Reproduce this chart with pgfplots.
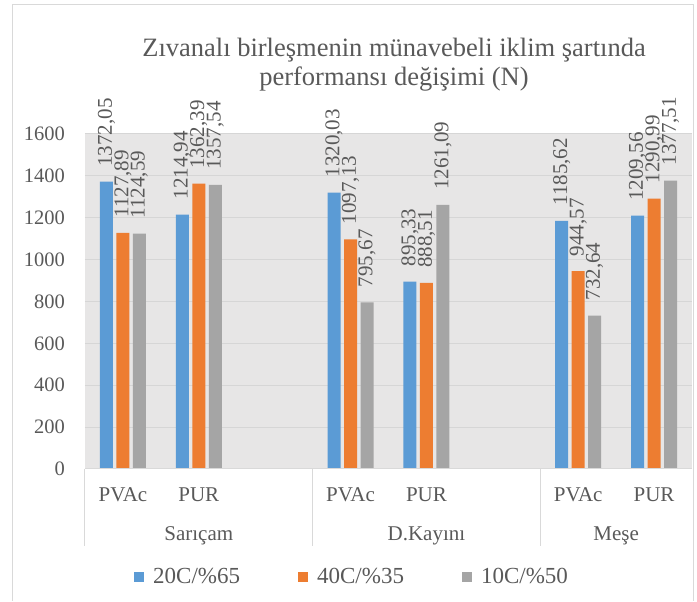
\documentclass[border=0pt]{standalone}
\usepackage{fontspec}
\setmainfont{Liberation Serif}
\usepackage{pgfplots}
\pgfplotsset{compat=1.18}
\definecolor{cblue}{HTML}{5B9BD5}
\definecolor{corange}{HTML}{ED7D31}
\definecolor{cgrey}{HTML}{A5A5A5}
\definecolor{txt}{HTML}{595959}
\definecolor{plotbg}{HTML}{E7E6E6}
\definecolor{gridc}{HTML}{D6D6D6}
\definecolor{linec}{HTML}{D9D9D9}
\newcommand{\fs}[1]{\fontsize{#1}{#1}\selectfont}
\begin{document}
\begin{tikzpicture}
\begin{axis}[
  at={(85pt,132pt)}, anchor=south west,
  scale only axis, width=607pt, height=335pt,
  xmin=-0.5, xmax=7.5, ymin=0, ymax=1600,
  clip=false,
  /pgf/number format/assume math mode=true,
  /pgf/number format/1000 sep={},
  axis background/.style={fill=plotbg},
  axis line style={draw=none},
  ymajorgrids, grid style={gridc, line width=1pt},
  major tick length=0pt,
  ytick={0,200,...,1600},
  yticklabel style={anchor=east, inner sep=0pt, xshift=-20pt, text=txt, font=\fs{20.5}},
  xtick={0,1,3,4,6,7},
  xticklabels={PVAc,PUR,PVAc,PUR,PVAc,PUR},
  xticklabel style={anchor=base, inner sep=0pt, yshift=-33pt, text=txt, font=\fs{21}},
  every node near coord/.append style={rotate=90, anchor=west, inner xsep=15pt, inner ysep=0pt, text=txt, font=\fs{21}},
  nodes near coords={\pgfmathprintnumber[fixed,fixed zerofill,precision=2,use comma,1000 sep={}]{\pgfplotspointmeta}},
  legend columns=3,
  legend style={at={(rel axis cs:0.44,-0.322)}, anchor=center, draw=none, fill=none,
    font=\fs{23}, text=txt, inner sep=0pt,
    /tikz/every odd column/.append style={column sep=7pt},
    /tikz/every even column/.append style={column sep=56pt}},
  legend image code/.code={\fill[#1] (0pt,-5pt) rectangle (10pt,5pt);},
]
\addplot[ybar, bar width=0.171, bar shift=0, fill=cblue, draw=none] coordinates {(-0.217,1372.05) (0.783,1214.94) (2.783,1320.03) (3.783,895.33) (5.783,1185.62) (6.783,1209.56)};
\addlegendentry{20C/\%65}
\addplot[ybar, bar width=0.171, bar shift=0, fill=corange, draw=none] coordinates {(0,1127.89) (1,1362.39) (3,1097.13) (4,888.51) (6,944.57) (7,1290.99)};
\addlegendentry{40C/\%35}
\addplot[ybar, bar width=0.171, bar shift=0, fill=cgrey, draw=none] coordinates {(0.217,1124.59) (1.217,1357.54) (3.217,795.67) (4.217,1261.09) (6.217,732.64) (7.217,1377.51)};
\addlegendentry{10C/\%50}
\draw[linec, line width=1pt] (rel axis cs:0,0) -- (rel axis cs:1,0);
\draw[linec, line width=1pt] (axis cs:-0.5,0) -- ++(0pt,-77pt);
\draw[linec, line width=1pt] (axis cs:2.5,0) -- ++(0pt,-77pt);
\draw[linec, line width=1pt] (axis cs:5.5,0) -- ++(0pt,-77pt);
\node[anchor=base, text=txt, font=\fs{21}] at ([yshift=-72pt]axis cs:1,0) {Sarıçam};
\node[anchor=base, text=txt, font=\fs{21}] at ([yshift=-72pt]axis cs:4,0) {D.Kayını};
\node[anchor=base, text=txt, font=\fs{21}] at ([yshift=-72pt]axis cs:6.5,0) {Meşe};
\end{axis}
\draw[linec, line width=1pt] (12pt,0pt) -- (12pt,596pt) -- (693pt,596pt) -- (693pt,0pt);
\node[anchor=base, text=txt, font=\fs{26.5}] at (394pt,544pt) {Zıvanalı birleşmenin münavebeli iklim şartında};
\node[anchor=base, text=txt, font=\fs{26.5}] at (394pt,515pt) {performansı değişimi (N)};
\path (0pt,0pt) rectangle (697pt,601pt);
\end{tikzpicture}
\end{document}
